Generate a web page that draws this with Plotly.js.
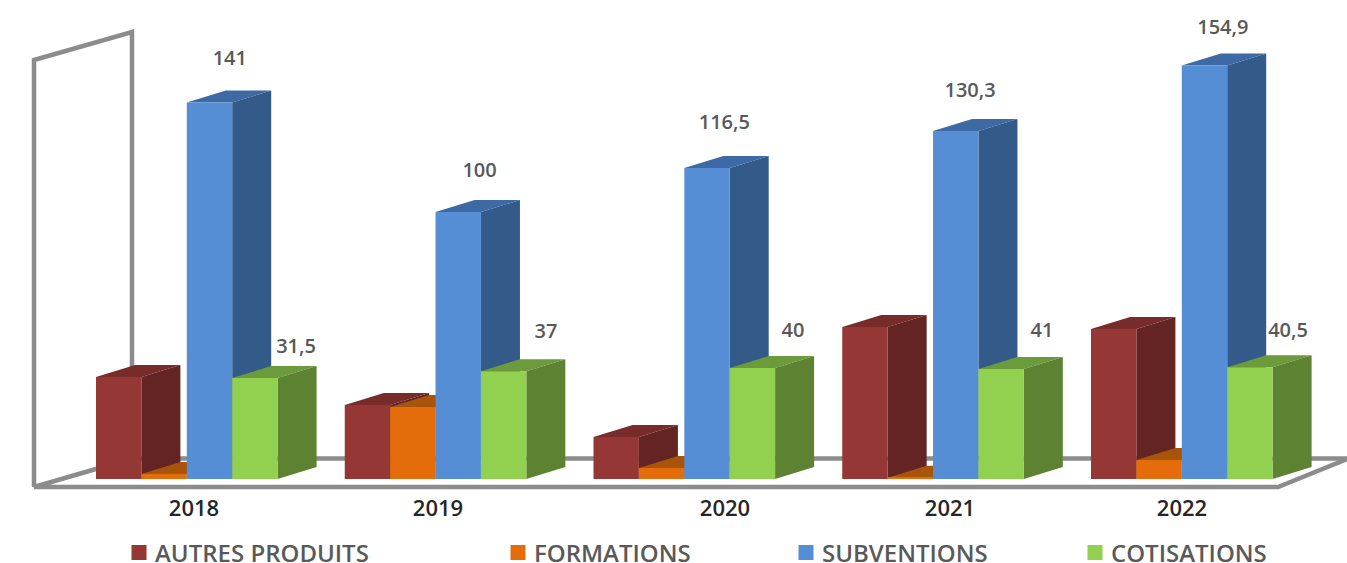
<!DOCTYPE html>
<html>
<head>
<meta charset="utf-8">
<script src="https://cdn.plot.ly/plotly-3.0.1.min.js"></script>
<style>html,body{margin:0;padding:0;background:#fff}#chart{width:1347px;height:563px}</style>
</head>
<body>
<div id="chart"></div>
<script>
// ---- data ----
const years = ["2018", "2019", "2020", "2021", "2022"];
const autresProduits = [38.2, 27.7, 15.7, 56.9, 56.2];
const formations = [1.9, 27, 4.1, 0.5, 7.1];
const subventions = [141, 100, 116.5, 130.3, 154.9];
const cotisations = [37.8, 40.4, 41.6, 41.2, 41.9];
const subventionsLabels = ["141", "100", "116,5", "130,3", "154,9"];
const cotisationsLabels = ["31,5", "37", "40", "41", "40,5"];
const seriesNames = ["AUTRES PRODUITS", "FORMATIONS", "SUBVENTIONS", "COTISATIONS"];

// ---- styling and geometry ----
const W = 1347, H = 563, plotBottom = 493, baseY = 479;
const pxPerGroup = 248.75, firstCenter = 186.8, pxPerUnit = 2.67;
const toX = p => (p - firstCenter) / pxPerGroup;
const toY = p => (baseY - p) / pxPerUnit;
const xRange = [toX(0), toX(W)];
const yRange = [toY(plotBottom), toY(0)];
const groupX = years.map((_, i) => i);
const barW = 0.1825, depthX = 39 / pxPerGroup, depthY = 12 / pxPerUnit;

const allValues = [autresProduits, formations, subventions, cotisations];
const frontColors = ["#953735", "#E46C0A", "#558ED5", "#92D050"];
const topColors = ["#772C2A", "#A9540B", "#3D6AA5", "#6B9B3B"];
const sideColors = ["#632423", "#8F4708", "#345A89", "#5D8232"];

const traces = [];

// chart frame (walls and floor)
const framePx = [
  [34, 487], [34, 60], [132, 32], [132, 458.5], [34, 487], [1278, 487], [1347, 459], [null, null],
  [132, 458.5], [1347, 458.5]
];
traces.push({
  type: "scatter", mode: "lines", xaxis: "x", yaxis: "y",
  x: framePx.map(p => p[0] === null ? null : toX(p[0])),
  y: framePx.map(p => p[1] === null ? null : toY(p[1])),
  line: {color: "#8C8C8C", width: 4.5, simplify: false},
  hoverinfo: "skip", showlegend: false
});

// top and side faces, computed from the values; painted left to right
allValues.forEach((vals, s) => {
  const topX = [], topY = [], sideX = [], sideY = [];
  vals.forEach((v, g) => {
    const left = g - 2 * barW + s * barW, right = left + barW;
    topX.push(left, right, right + depthX, left + depthX, left, null);
    topY.push(v, v, v + depthY, v + depthY, v, null);
    sideX.push(right, right + depthX, right + depthX, right, right, null);
    sideY.push(0, depthY, v + depthY, v, 0, null);
  });
  [[topX, topY, topColors[s]], [sideX, sideY, sideColors[s]]].forEach(f => {
    traces.push({
      type: "scatter", mode: "lines", xaxis: "x", yaxis: "y",
      x: f[0], y: f[1], fill: "toself", fillcolor: f[2],
      line: {width: 0, color: f[2]}, hoverinfo: "skip", showlegend: false
    });
  });
});

// front faces
allValues.forEach((vals, s) => {
  traces.push({
    type: "bar", xaxis: "x2", yaxis: "y2",
    x: groupX, y: vals, name: seriesNames[s],
    marker: {color: frontColors[s], line: {width: 0}},
    legend: s === 0 ? "legend" : "legend" + (s + 1),
    showlegend: true
  });
});

// value labels: pixel nudges relative to each bar's top
const blueNudgeX = [43, 44, 40, 37, 41], blueNudgeY = [-43, -40, -44, -39, -36];
const greenLabelX = [296, 546, 793, 1042, 1288], greenLabelY = [348, 333, 332, 332, 332];
const labelFont = {family: "'Open Sans', sans-serif", size: 20, color: "#595959", weight: 600};
traces.push({
  type: "scatter", mode: "text", xaxis: "x2", yaxis: "y2",
  x: subventions.map((v, g) => toX(firstCenter + g * pxPerGroup + blueNudgeX[g])),
  y: subventions.map((v, g) => v - blueNudgeY[g] / pxPerUnit),
  text: subventionsLabels, textposition: "middle center", cliponaxis: false,
  textfont: labelFont, hoverinfo: "skip", showlegend: false
});
traces.push({
  type: "scatter", mode: "text", xaxis: "x2", yaxis: "y2",
  x: greenLabelX.map(toX), y: greenLabelY.map(toY),
  text: cotisationsLabels, textposition: "middle center", cliponaxis: false,
  textfont: labelFont, hoverinfo: "skip", showlegend: false
});

const legendTextX = [155, 534, 822, 1111];
const legendFont = {family: "'Open Sans', sans-serif", size: 24, color: "#595959", weight: 600};
const mkLegend = i => ({
  x: (legendTextX[i] - 40) / W, y: (plotBottom - 553) / plotBottom,
  xanchor: "left", yanchor: "middle", orientation: "h",
  entrywidth: 226, entrywidthmode: "pixels",
  bgcolor: "rgba(0,0,0,0)", borderwidth: 0, font: legendFont
});

const tickPx = [194, 438, 725, 950, 1182];
const layout = {
  width: W, height: H,
  margin: {l: 0, r: 0, t: 0, b: H - plotBottom, pad: 0, autoexpand: false},
  paper_bgcolor: "#fff", plot_bgcolor: "#fff",
  barmode: "group", bargap: 1 - 4 * barW, bargroupgap: 0,
  xaxis: {
    range: xRange, showgrid: false, zeroline: false, showline: false, ticks: "",
    tickmode: "array", tickvals: tickPx.map(toX), ticktext: years,
    tickfont: {family: "'Open Sans', sans-serif", size: 22, color: "#262626", weight: 600},
    fixedrange: true
  },
  yaxis: {range: yRange, visible: false, fixedrange: true},
  xaxis2: {range: xRange, overlaying: "x", anchor: "y2", visible: false, fixedrange: true},
  yaxis2: {range: yRange, overlaying: "y", anchor: "x2", visible: false, fixedrange: true},
  legend: mkLegend(0), legend2: mkLegend(1), legend3: mkLegend(2), legend4: mkLegend(3),
  hovermode: false
};
Plotly.newPlot("chart", traces, layout, {displayModeBar: false, responsive: false}).then(() => {
  // enlarge the legend swatches and bring them closer to their text
  document.querySelectorAll("#chart .legendpoints path").forEach(p => {
    p.setAttribute("transform", "translate(24,0) scale(1.25)");
  });
});
</script>
</body>
</html>
